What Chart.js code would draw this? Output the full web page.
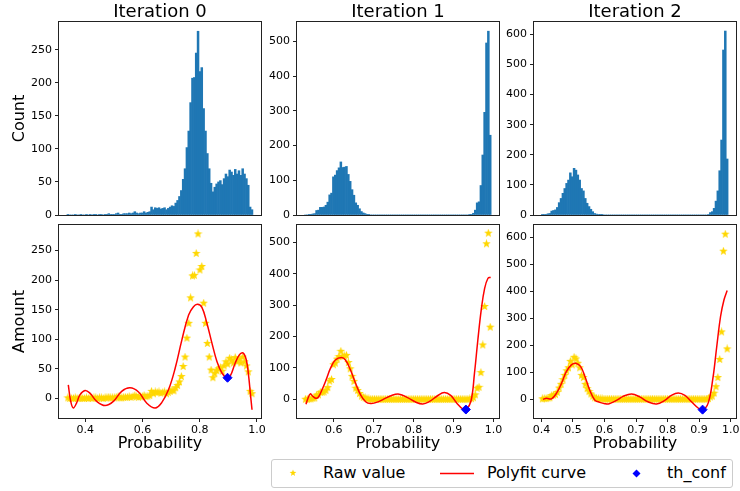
<!DOCTYPE html>
<html>
<head>
<meta charset="utf-8">
<script src="https://cdn.jsdelivr.net/npm/chart.js@4.4.1/dist/chart.umd.min.js"></script>
<style>
  html, body { margin: 0; padding: 0; background: #fff; }
  body { width: 740px; height: 491px; position: relative; overflow: hidden; font-family: 'DejaVu Sans', sans-serif; }
  canvas { position: absolute; }
  #legend { position: absolute; left: 271px; top: 459px; width: 460px; height: 27px; border: 1px solid #cccccc; border-radius: 3px; font-size: 16px; color: #000; }
  #legend span { position: absolute; top: 3px; line-height: 20px; white-space: nowrap; }
  #legend svg { position: absolute; }
</style>
</head>
<body>
<div id="legend">
  <svg style="left:17px;top:9px" width="8" height="8" viewBox="-4 -4 8 8"><polygon fill="#FFD700" points="0,-3.6 0.85,-1.2 3.4,-1.1 1.4,0.5 2.1,2.9 0,1.5 -2.1,2.9 -1.4,0.5 -3.4,-1.1 -0.85,-1.2"/></svg>
  <span style="left:51px">Raw value</span>
  <svg style="left:168px;top:12px" width="34" height="3"><line x1="0" y1="1.5" x2="34" y2="1.5" stroke="#ff0000" stroke-width="1.5"/></svg>
  <span style="left:215px">Polyfit curve</span>
  <svg style="left:360px;top:9px" width="9" height="9" viewBox="-4.5 -4.5 9 9"><polygon fill="#0000ff" points="0,-4 4,0 0,4 -4,0"/></svg>
  <span style="left:395px">th_conf</span>
</div>
<script>
// histogram counts per bin (also the raw values of the lower plots)
const iter0Counts = [
  1, 0, 0, 0, 1, 0, 0, 1, 0, 0,
  1, 0, 1, 0, 1, 1, 0, 1, 1, 0,
  1, 1, 2, 1, 1, 1, 2, 3, 1, 1,
  2, 2, 2, 3, 2, 3, 5, 3, 2, 3,
  3, 5, 3, 4, 5, 12, 8, 11, 10, 11,
  9, 10, 11, 8, 10, 12, 14, 13, 18, 22,
  28, 37, 54, 70, 102, 127, 170, 207, 208, 245,
  278, 217, 223, 161, 127, 93, 70, 48, 35, 42,
  47, 50, 52, 46, 55, 62, 58, 68, 65, 60,
  69, 62, 67, 60, 70, 62, 55, 45, 12, 8
];
const iter1Counts = [
  0, 0, 1, 1, 3, 4, 13, 14, 22, 22,
  23, 28, 37, 58, 63, 110, 115, 128, 136, 153,
  137, 138, 140, 117, 97, 73, 57, 35, 28, 18,
  10, 6, 4, 2, 1, 0, 0, 0, 0, 0,
  0, 0, 0, 0, 0, 0, 0, 0, 0, 0,
  0, 0, 0, 0, 0, 0, 0, 0, 0, 0,
  0, 0, 0, 0, 0, 0, 0, 0, 0, 0,
  0, 0, 0, 0, 0, 0, 0, 0, 0, 0,
  0, 0, 0, 0, 0, 0, 0, 0, 1, 2,
  5, 14, 35, 38, 85, 173, 296, 496, 530, 230
];
const iter2Counts = [
  1, 2, 2, 4, 5, 13, 15, 17, 25, 41,
  55, 72, 88, 105, 116, 140, 127, 155, 149, 133,
  116, 88, 80, 55, 39, 28, 19, 11, 5, 3,
  2, 1, 1, 0, 0, 0, 0, 0, 0, 0,
  0, 0, 0, 0, 0, 0, 0, 0, 0, 0,
  0, 0, 0, 0, 0, 0, 0, 0, 0, 0,
  0, 0, 0, 0, 0, 0, 0, 0, 0, 0,
  0, 0, 0, 0, 0, 0, 0, 0, 0, 0,
  0, 0, 0, 0, 0, 0, 0, 0, 0, 2,
  8, 11, 22, 46, 80, 147, 249, 548, 611, 186
];
// first bin centre and bin width of each iteration
const binStart = [0.339, 0.529, 0.403];
const binStep = [0.0065, 0.004677, 0.005919];

// polyfit curves
const fit0X = [0.3405, 0.349, 0.358, 0.370, 0.381, 0.399, 0.416, 0.440, 0.469, 0.498, 0.527, 0.556, 0.586, 0.615, 0.644, 0.667, 0.691, 0.714, 0.7375, 0.761, 0.778, 0.792, 0.8075, 0.825, 0.8425, 0.860, 0.8775, 0.895, 0.9066, 0.924, 0.939, 0.951, 0.9627, 0.971, 0.9767, 0.9826];
const fit0Y = [23, -5, -16, -7, 6, 13.5, 9, -5, -12, -5, 12, 18, 11, -8, -16, -7, 15, 51, 99, 141, 155, 159, 154, 127, 93.5, 62.5, 43, 34.5, 38, 60, 74, 77, 65, 37, 9, -19];
const fit1X = [0.5305, 0.5355, 0.5413, 0.547, 0.5557, 0.5622, 0.5707, 0.581, 0.592, 0.604, 0.6194, 0.6295, 0.642, 0.6547, 0.6673, 0.680, 0.6924, 0.705, 0.722, 0.745, 0.764, 0.785, 0.805, 0.823, 0.840, 0.860, 0.877, 0.893, 0.908, 0.923, 0.932, 0.944, 0.9526, 0.961, 0.9695, 0.978, 0.9864, 0.993];
const fit1Y = [-16, 3, 17, 10, 3, 8, 30, 62, 99, 125, 133, 125, 93, 51, 14, -8, -14, -11, -2, 12, 16, 5, -9, -15, -7, 11, 21, 12, -12, -31, -33, -5, 83, 189, 285, 354, 386, 389];
const fit2X = [0.405, 0.416, 0.432, 0.448, 0.464, 0.479, 0.495, 0.509, 0.524, 0.538, 0.553, 0.569, 0.585, 0.601, 0.615, 0.638, 0.659, 0.686, 0.712, 0.738, 0.765, 0.791, 0.812, 0.834, 0.855, 0.876, 0.897, 0.912, 0.929, 0.943, 0.956, 0.968, 0.979, 0.989];
const fit2Y = [-1, 3, 1, 22, 59, 102, 127, 133, 121, 84, 34, -3, -12, -17, -17, -5, 10, 19, 8, -10, -18, -5, 14, 23, 14, -10, -33, -40, -14, 71, 195, 306, 368, 402];

// threshold point (minimum of the fitted curve)
const thConfX = [0.897, 0.931, 0.911];
const thConfY = [35, -33, -39];

const iterTitles = ['Iteration 0', 'Iteration 1', 'Iteration 2'];

(function () {
    'use strict';

    var FONT = "'DejaVu Sans', sans-serif";
    Chart.defaults.font.family = FONT;
    Chart.defaults.color = '#000';

    var counts = [iter0Counts, iter1Counts, iter2Counts];
    var fitX = [fit0X, fit1X, fit2X];
    var fitY = [fit0Y, fit1Y, fit2Y];

    // layout of the 2x3 grid
    var plotLeft = [59, 297, 534];
    var plotW = 202, plotH = 193;
    var topRowTop = 22, bottomRowTop = 225;
    var axes = [
        { xMin: 0.308, xMax: 1.014, xStep: 0.2, histMax: 292, ampMin: -33, ampMax: 293, yStep: 50 },
        { xMin: 0.508, xMax: 1.014, xStep: 0.1, histMax: 556.5, ampMin: -60, ampMax: 556, yStep: 100 },
        { xMin: 0.3765, xMax: 1.017, xStep: 0.1, histMax: 641, ampMin: -70, ampMax: 645, yStep: 100 }
    ];

    var framePlugin = {
        id: 'frame',
        afterDraw: function (chart) {
            var a = chart.chartArea, ctx = chart.ctx;
            ctx.save();
            ctx.strokeStyle = '#222';
            ctx.lineWidth = 1;
            ctx.strokeRect(Math.round(a.left) - 0.5, Math.round(a.top) - 0.5,
                Math.round(a.right - a.left) + 1, Math.round(a.bottom - a.top) + 1);
            ctx.restore();
        }
    };

    function starImage(size, color) {
        var c = document.createElement('canvas');
        c.width = c.height = size;
        var g = c.getContext('2d');
        var R = size / 2, r = R * 0.42;
        g.beginPath();
        for (var i = 0; i < 10; i++) {
            var rad = i % 2 ? r : R;
            var a = -Math.PI / 2 + i * Math.PI / 5;
            g.lineTo(size / 2 + rad * Math.cos(a), size / 2 + rad * Math.sin(a));
        }
        g.closePath();
        g.fillStyle = color;
        g.fill();
        return c;
    }
    var star = starImage(9, '#FFD700');

    function makeCanvas(left, top, w, h) {
        var c = document.createElement('canvas');
        c.width = w; c.height = h;
        c.style.left = left + 'px'; c.style.top = top + 'px';
        c.style.width = w + 'px'; c.style.height = h + 'px';
        document.body.appendChild(c);
        return c;
    }

    function tickGrid() {
        return { display: true, drawOnChartArea: false, drawTicks: true, tickLength: 4, color: '#222', lineWidth: 1 };
    }

    function yScale(min, max, step, title, yW) {
        return {
            type: 'linear', min: min, max: max,
            border: { display: false },
            grid: tickGrid(),
            ticks: { stepSize: step, includeBounds: false, padding: 3, font: { size: 11 }, color: '#000' },
            title: { display: !!title, text: title || '', font: { size: 16, lineHeight: 1.2 }, padding: { top: 4, bottom: 0 }, color: '#000' },
            afterFit: function (s) { s.width = yW; }
        };
    }

    function bins(k) {
        return counts[k].map(function (c, i) { return { x: binStart[k] + i * binStep[k], y: c }; });
    }

    for (var k = 0; k < 3; k++) {
        var ax = axes[k];
        var padL = k === 0 ? 6 : 0;
        var yW = k === 0 ? 53 : 40;
        var padR = 14;
        var cw = padL + yW + plotW + padR;
        var cLeft = plotLeft[k] - yW - padL;

        // top row: histogram
        var topCanvas = makeCanvas(cLeft, 0, cw, topRowTop + plotH + 11);
        new Chart(topCanvas, {
            type: 'bar',
            data: { datasets: [{
                data: bins(k),
                backgroundColor: '#1f77b4',
                borderWidth: 0,
                barPercentage: 1.0,
                categoryPercentage: 1.0
            }] },
            options: {
                responsive: false, animation: false, events: [],
                layout: { padding: { left: padL, right: padR, top: 0, bottom: 5 } },
                plugins: {
                    legend: { display: false }, tooltip: { enabled: false },
                    title: { display: true, text: iterTitles[k], fullSize: false, color: '#000',
                        font: { size: 18, weight: 'normal', lineHeight: 1.1 }, padding: { top: 2.2, bottom: 0 } }
                },
                scales: {
                    x: { type: 'linear', min: ax.xMin, max: ax.xMax, offset: false,
                        border: { display: false }, grid: { display: false },
                        ticks: { display: false, stepSize: ax.xStep, includeBounds: false },
                        afterFit: function (s) { s.height = 6; } },
                    y: yScale(0, ax.histMax, ax.yStep, k === 0 ? 'Count' : '', yW)
                }
            },
            plugins: [framePlugin]
        });

        // bottom row: raw values, polyfit curve, threshold
        var botCanvas = makeCanvas(cLeft, bottomRowTop - 11, cw, 11 + plotH + 39);
        var fit = fitX[k].map(function (x, i) { return { x: x, y: fitY[k][i] }; });
        new Chart(botCanvas, {
            type: 'scatter',
            data: { datasets: [
                { label: 'Raw value', data: bins(k), pointStyle: star, pointRadius: 4, showLine: false, order: 3 },
                { label: 'Polyfit curve', data: fit, showLine: true, borderColor: '#ff0000', borderWidth: 1.5,
                  pointRadius: 0, tension: 0.4, order: 2 },
                { label: 'th_conf', data: [{ x: thConfX[k], y: thConfY[k] }], pointStyle: 'rectRot', pointRadius: 4.5,
                  backgroundColor: '#0000ff', borderColor: '#0000ff', borderWidth: 1, order: 1 }
            ] },
            options: {
                responsive: false, animation: false, events: [],
                layout: { padding: { left: padL, right: padR, top: 11, bottom: 0 } },
                plugins: { legend: { display: false }, tooltip: { enabled: false } },
                scales: {
                    x: { type: 'linear', min: ax.xMin, max: ax.xMax,
                        border: { display: false }, grid: tickGrid(),
                        ticks: { stepSize: ax.xStep, includeBounds: false, autoSkip: false, padding: 2,
                            font: { size: 11 }, color: '#000',
                            callback: function (v) { return Number(v).toFixed(1); } },
                        title: { display: true, text: 'Probability', font: { size: 16, lineHeight: 1.2 },
                            padding: { top: 0, bottom: 4 }, color: '#000' },
                        afterFit: function (s) { s.height = 39; } },
                    y: yScale(ax.ampMin, ax.ampMax, ax.yStep, k === 0 ? 'Amount' : '', yW)
                }
            },
            plugins: [framePlugin]
        });
    }
})();
</script>
</body>
</html>
